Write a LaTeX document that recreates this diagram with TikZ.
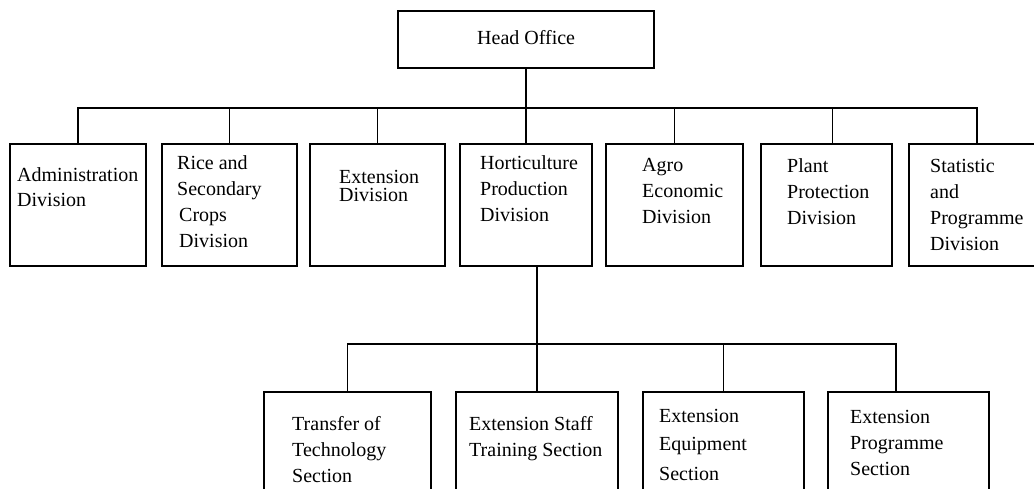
\documentclass[tikz,border=0pt]{standalone}
\usepackage{fontspec}
\setmainfont{Liberation Serif}
\newcommand\boxlines[1]{\begin{tabular}[t]{@{}l@{}}#1\end{tabular}}
\tikzset{
  box/.style={draw, line width=1.5pt, inner sep=0pt, outer sep=0pt, anchor=north west},
  lbl/.style={anchor=base west, inner sep=0pt, font=\fontsize{20}{26}\selectfont},
  conn/.style={line width=1.5pt},
}
\begin{document}
\begin{tikzpicture}[x=1pt,y=-1pt]
\useasboundingbox (0,0) rectangle (1034,489);
\clip (0,0) rectangle (1034,489);
\fill[white] (0,0) rectangle (1034,489);
% head
\node[box, minimum width=256pt, minimum height=57pt] (head) at (398,11) {};
\node[lbl] (headt) at (477,45) {Head Office};
% top row
\node[box, minimum width=136pt, minimum height=122pt] (b1) at (10,144) {};
\node[box, minimum width=135pt, minimum height=122pt] (b2) at (162,144) {};
\node[box, minimum width=135pt, minimum height=122pt] (b3) at (310,144) {};
\node[box, minimum width=132pt, minimum height=122pt] (b4) at (460,144) {};
\node[box, minimum width=137pt, minimum height=122pt] (b5) at (606,144) {};
\node[box, minimum width=131pt, minimum height=122pt] (b6) at (761,144) {};
\node[box, minimum width=136pt, minimum height=122pt] (b7) at (909,144) {};
\node[lbl] (t1) at (17,182) {\boxlines{Administration\\[-1pt]Division}};
\node[lbl] (t2) at (177,170) {\boxlines{Rice and\\Secondary\\\kern2pt Crops\\\kern2pt Division}};
\node[lbl] (t3) at (339,184) {\boxlines{Extension\\[-8pt]Division}};
\node[lbl] (t4) at (480,170) {\boxlines{Horticulture\\Production\\Division}};
\node[lbl] (t5) at (642,172) {\boxlines{Agro\\Economic\\Division}};
\node[lbl] (t6) at (787,173) {\boxlines{Plant\\Protection\\Division}};
\node[lbl] (t7) at (930,173) {\boxlines{Statistic\\and\\Programme\\Division}};
% bottom row
\node[box, minimum width=167pt, minimum height=110pt] (c1) at (264,392) {};
\node[box, minimum width=162pt, minimum height=110pt] (c2) at (456,392) {};
\node[box, minimum width=161pt, minimum height=110pt] (c3) at (643,392) {};
\node[box, minimum width=161pt, minimum height=110pt] (c4) at (828,392) {};
\node[lbl] (u1) at (292,430) {\boxlines{Transfer of\\Technology\\Section}};
\node[lbl] (u2) at (469,430) {\boxlines{Extension Staff\\Training Section}};
\node[lbl] (u3) at (659,422) {\boxlines{Extension\\[2pt]Equipment\\[4pt]Section}};
\node[lbl] (u4) at (850,423) {\boxlines{Extension\\Programme\\Section}};
% connectors
\coordinate (bus) at (0,108);
\coordinate (bus2) at (0,344);
\draw[conn] (head.south) -- (head.south |- bus);
\draw[conn] (b1.north) -- (b1.north |- bus) -- (b7.north |- bus) -- (b7.north);
\foreach \n in {b2,b3,b4,b5}{\draw[conn] (\n.north) -- (\n.north |- bus);}
\draw[conn] ([xshift=6pt]b6.north) -- ([xshift=6pt]b6.north |- bus);
\draw[conn] (c2.north |- b4.south) -- (c2.north);
\draw[conn] (c1.north) -- (c1.north |- bus2) -- ([xshift=-12.5pt]c4.north |- bus2) -- ([xshift=-12.5pt]c4.north);
\draw[conn] (c3.north) -- (c3.north |- bus2);
\end{tikzpicture}
\end{document}
